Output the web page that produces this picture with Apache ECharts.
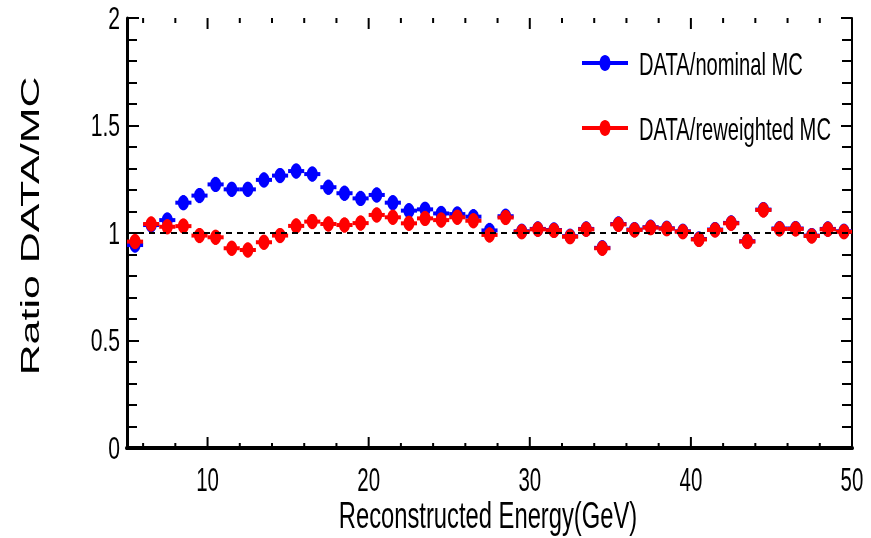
<!DOCTYPE html>
<html>
<head>
<meta charset="utf-8">
<script src="https://cdn.jsdelivr.net/npm/echarts@6/dist/echarts.min.js"></script>
<style>html,body{margin:0;padding:0;background:#fff}#c{width:871px;height:538px}</style>
</head>
<body>
<div id="c"></div>
<script>
// ---- data ----
const binCenters = [5.5,6.5,7.5,8.5,9.5,10.5,11.5,12.5,13.5,14.5,15.5,16.5,17.5,18.5,19.5,20.5,21.5,22.5,23.5,24.5,25.5,26.5,27.5,28.5,29.5,30.5,31.5,32.5,33.5,34.5,35.5,36.5,37.5,38.5,39.5,40.5,41.5,42.5,43.5,44.5,45.5,46.5,47.5,48.5,49.5];
const nominalRatio = [0.944,1.037,1.060,1.141,1.174,1.226,1.203,1.203,1.247,1.267,1.288,1.274,1.213,1.185,1.161,1.177,1.141,1.104,1.110,1.091,1.088,1.076,1.012,1.078,1.008,1.019,1.014,0.985,1.019,0.931,1.042,1.016,1.027,1.022,1.008,0.972,1.016,1.047,0.962,1.109,1.021,1.021,0.988,1.019,1.008];
const reweightedRatio = [0.960,1.042,1.029,1.032,0.988,0.980,0.929,0.921,0.957,0.988,1.033,1.053,1.042,1.037,1.046,1.084,1.073,1.045,1.068,1.060,1.073,1.057,0.991,1.072,1.006,1.017,1.012,0.983,1.017,0.929,1.040,1.014,1.025,1.020,1.006,0.970,1.014,1.045,0.960,1.107,1.019,1.019,0.986,1.017,1.006];
const ratioError = 0.035;
const binWidth = 1;
const xTickValues = [6,8,10,12,14,16,18,20,22,24,26,28,30,32,34,36,38,40,42,44,46,48,50];
const xLabelValues = [10,20,30,40,50];
const xLabelTexts = ['10','20','30','40','50'];
const yLabelValues = [0,0.5,1,1.5,2];
const yLabelTexts = ['0','0.5','1','1.5','2'];
const seriesNames = ['DATA/nominal MC','DATA/reweighted MC'];
const seriesColors = ['#0000ff','#ff0000'];
const yTitle = 'Ratio DATA/MC';
const xTitle = 'Reconstructed Energy(GeV)';

const FONT = '"Liberation Sans", Arial, Helvetica, sans-serif';

function pairs(ys){ return binCenters.map((x,i)=>[x, ys[i]]); }

function markerRenderer(color){
  return function(params, api){
    const x = api.value(0), y = api.value(1);
    const c = api.coord([x,y]);
    const l = api.coord([x-binWidth/2,y]);
    const r = api.coord([x+binWidth/2,y]);
    const lo = api.coord([x,y-ratioError]);
    const hi = api.coord([x,y+ratioError]);
    return {type:'group', children:[
      {type:'line', shape:{x1:l[0],y1:c[1],x2:r[0],y2:c[1]}, style:{stroke:color,lineWidth:4}},
      {type:'line', shape:{x1:c[0],y1:lo[1],x2:c[0],y2:hi[1]}, style:{stroke:color,lineWidth:3}},
      {type:'ellipse', shape:{cx:c[0],cy:c[1],rx:5.5,ry:7.5}, style:{fill:color}}
    ]};
  };
}

function tickRenderer(params, api){
  const v = api.value(0);
  const b = api.coord([v,0]);
  const t = api.coord([v,2]);
  const len = (v % 10 === 0) ? 11 : 5;
  return {type:'group', children:[
    {type:'line', shape:{x1:b[0],y1:b[1],x2:b[0],y2:b[1]-len}, style:{stroke:'#000',lineWidth:2}},
    {type:'line', shape:{x1:t[0],y1:t[1],x2:t[0],y2:t[1]+len}, style:{stroke:'#000',lineWidth:2}}
  ]};
}

const chart = echarts.init(document.getElementById('c'), null, {renderer:'canvas'});
chart.setOption({
  animation:false,
  backgroundColor:'#fff',
  grid:{left:127, right:19, top:18, bottom:90, containLabel:false},
  xAxis:[{
    type:'value', min:5, max:50, interval:1, position:'bottom',
    axisLine:{show:true, lineStyle:{color:'#000', width:4}},
    axisTick:{show:false}, splitLine:{show:false}, axisLabel:{show:false}
  },{
    type:'value', min:5, max:50, interval:1, position:'top',
    axisLine:{show:true, lineStyle:{color:'#000', width:3}},
    axisTick:{show:false}, axisLabel:{show:false}, splitLine:{show:false}
  }],
  yAxis:[{
    type:'value', min:0, max:2, interval:0.5, position:'left',
    axisLine:{show:true, lineStyle:{color:'#000', width:3}},
    axisTick:{show:true, inside:true, length:12, lineStyle:{color:'#000', width:2}},
    minorTick:{show:true, splitNumber:5, length:10, lineStyle:{color:'#000', width:2}},
    splitLine:{show:false}, axisLabel:{show:false}
  },{
    type:'value', min:0, max:2, interval:0.5, position:'right',
    axisLine:{show:true, lineStyle:{color:'#000', width:2}},
    axisTick:{show:true, inside:true, length:11, lineStyle:{color:'#000', width:2}},
    minorTick:{show:true, splitNumber:5, length:10, lineStyle:{color:'#000', width:2}},
    splitLine:{show:false}, axisLabel:{show:false}
  }],
  series:[
    {
      type:'line', name:'unity', data:[], z:1, silent:true,
      markLine:{silent:true, symbol:'none', label:{show:false},
        lineStyle:{color:'#000', width:2, type:[6,5]},
        data:[{yAxis:1}]}
    },
    {
      type:'custom', name:'ticks', data:xTickValues.map(v=>[v]), renderItem:tickRenderer,
      clip:false, silent:true, z:2, encode:{x:0}
    },
    {
      type:'custom', name:seriesNames[0], data:pairs(nominalRatio), renderItem:markerRenderer(seriesColors[0]),
      itemStyle:{color:seriesColors[0]}, z:3, encode:{x:0,y:1}
    },
    {
      type:'custom', name:seriesNames[1], data:pairs(reweightedRatio), renderItem:markerRenderer(seriesColors[1]),
      itemStyle:{color:seriesColors[1]}, z:4, encode:{x:0,y:1}
    }
  ]
});

// condensed text (the reference uses a tall, narrow face), placed through the axes' own scales
const graphics = [];
xLabelValues.forEach((v,i)=>{
  const px = chart.convertToPixel({xAxisIndex:0}, v);
  const py = chart.convertToPixel({yAxisIndex:0}, 0);
  graphics.push({type:'text', x:px, y:py+34, scaleX:0.62, z:10,
    style:{text:xLabelTexts[i], font:'33px '+FONT, fill:'#000', align:'center', verticalAlign:'middle'}});
});
yLabelValues.forEach((v,i)=>{
  const px = chart.convertToPixel({xAxisIndex:0}, 5);
  const py = chart.convertToPixel({yAxisIndex:0}, v);
  graphics.push({type:'text', x:px-7, y:py+2, scaleX:0.66, z:10,
    style:{text:yLabelTexts[i], font:'32px '+FONT, fill:'#000', align:'right', verticalAlign:'middle'}});
});
graphics.push({type:'text', x:32, y:226, rotation:Math.PI/2, scaleX:1.65, z:10,
  style:{text:yTitle, font:'26px '+FONT, fill:'#000', align:'center', verticalAlign:'middle'}});
graphics.push({type:'text', x:488, y:518, scaleX:0.66, z:10,
  style:{text:xTitle, font:'36px '+FONT, fill:'#000', align:'center', verticalAlign:'middle'}});
// legend
const legendRows = [63, 128];
seriesNames.forEach((name,i)=>{
  const cy = legendRows[i];
  graphics.push({type:'line', shape:{x1:582,y1:cy,x2:628,y2:cy}, style:{stroke:seriesColors[i], lineWidth:4}, z:10});
  graphics.push({type:'ellipse', shape:{cx:605,cy:cy,rx:5.5,ry:8}, style:{fill:seriesColors[i]}, z:10});
  graphics.push({type:'text', x:639, y:cy+3, scaleX:0.63, z:10,
    style:{text:name, font:'32px '+FONT, fill:'#000', align:'left', verticalAlign:'middle'}});
});
chart.setOption({graphic:graphics});
</script>
</body>
</html>
